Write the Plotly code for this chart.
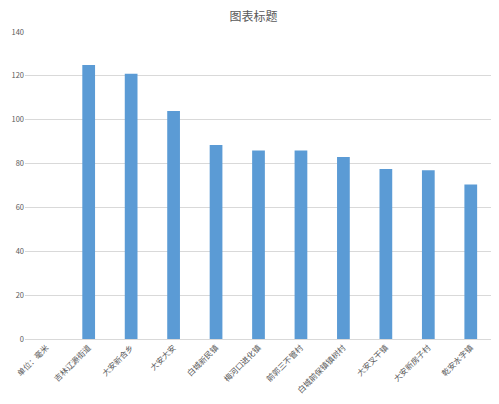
import plotly.graph_objects as go

# categories and values
places = ['单位：毫米', '吉林辽源街道', '大安新合乡', '大安大安', '白城新民镇', '梅河口进化镇',
          '前郭三不管村', '白城前保镇镇树村', '大安叉干镇', '大安新房子村', '乾安水字镇']
amounts = [None, 125, 121, 104, 88.5, 86, 86, 83, 77.5, 77, 70.5]
y_ticks = [0, 20, 40, 60, 80, 100, 120, 140]

cjk = 'Noto Sans CJK SC'

fig = go.Figure()
fig.add_trace(go.Bar(x=places, y=amounts, marker=dict(color='#5B9BD5', line=dict(width=0)),
                     width=0.3))

# page body adds an 8px margin, so the figure is sized to fit inside the window
fig.update_layout(
    title=dict(text='图表标题', x=0.5, xanchor='center', y=1 - 9 / 396, yanchor='middle',
               font=dict(family=cjk, size=12, color='#595959')),
    width=491, height=396,
    margin=dict(l=17, r=7, t=24, b=65),
    plot_bgcolor='white', paper_bgcolor='white',
    showlegend=False,
    xaxis=dict(tickangle=-45, tickfont=dict(family=cjk, size=8, color='#595959'),
               showgrid=False, showline=True, linecolor='#d9d9d9', ticks='', automargin=False),
    yaxis=dict(range=[0, 140], tickvals=y_ticks, tickfont=dict(family=cjk, size=7.5, color='#595959'),
               showgrid=True, gridcolor='#d9d9d9', gridwidth=1, zeroline=False, ticks='',
               automargin=False),
)

fig.write_html("out.html")
